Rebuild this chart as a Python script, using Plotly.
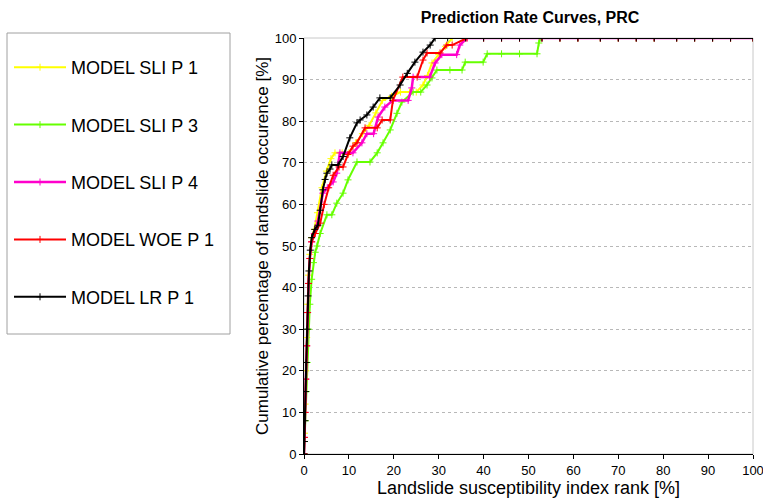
import plotly.graph_objects as go

# ---------------- data ----------------
tail_x = [36, 40, 44, 48, 53, 57, 61, 66, 70, 74, 78, 83, 87, 91, 95, 100]

sli1_x = [0, 0.1, 0.25, 0.4, 0.6, 0.8, 1.0, 1.3, 1.7, 2.3, 3.0, 4.0, 5.0, 6.0, 6.9, 8.5, 10, 11.5, 13, 14.5,
          16, 17.5, 19.5, 21.5, 23.5, 25, 26.5, 27.5, 28.5, 30, 31.5, 33] + tail_x
sli1_y = [0, 5, 12, 20, 28, 36, 43, 48, 52, 54, 58, 64, 68, 71, 72.4, 72.4, 72.4, 74.8, 77, 79,
          82, 85, 86, 87, 87, 87, 88.7, 91, 94, 96, 98, 100] + [100] * len(tail_x)

sli3_x = [0, 0.1, 0.3, 0.5, 0.7, 1.0, 1.3, 1.7, 2.1, 2.5, 2.9, 3.6, 5.1, 6.2, 7.3, 8.7, 9.8, 11.8, 14.7, 16.3,
          17.6, 19.2, 20.7, 21.8, 24.3, 26, 27.4, 28.5, 29.6, 32.5, 35.2, 35.9, 39.9, 40.8, 44, 48, 51.9, 52.3,
          52.6, 57, 61, 66, 70, 74, 78, 83, 87, 91, 95, 100]
sli3_y = [0, 3, 8, 15, 22, 30, 36, 42, 46, 48.5, 50, 53, 57.5, 57.5, 60.3, 62.7, 65.9, 70.2, 70.2, 72.4,
          74.8, 77.9, 81.9, 84.6, 87, 87, 88.7, 90.4, 92.3, 92.3, 92.3, 94.2, 94.2, 96.2, 96.2, 96.2, 96.2, 98.8,
          100, 100, 100, 100, 100, 100, 100, 100, 100, 100, 100, 100]

sli4_x = [0, 0.1, 0.25, 0.4, 0.6, 0.8, 1.0, 1.3, 1.7, 2.3, 3.1, 4.2, 5.2, 6.5, 7.3, 8.0, 10.9, 12.9, 14, 15.5,
          16.5, 18, 19.8, 23.2, 24, 24.3, 28, 29.2, 30.7, 34, 34.7, 36.3] + tail_x[1:]
sli4_y = [0, 4, 10, 18, 26, 34, 41, 47, 51, 53, 56, 62.7, 64, 65.4, 67.5, 72.4, 72.4, 74.8, 77, 77,
          81, 83.4, 85, 85, 88, 90.6, 90.6, 94, 96, 96, 98.3, 100] + [100] * len(tail_x[1:])

woe_x = [0, 0.1, 0.25, 0.4, 0.6, 0.8, 1.0, 1.3, 1.7, 2.5, 3.6, 4.5, 5.5, 6.5, 7.8, 8.7, 9.8, 10.9, 11.8, 13.6,
         16.3, 17.4, 19.2, 19.8, 22, 25.2, 26.5, 27.4, 30.3, 31.8, 33, 36.3] + tail_x[1:]
woe_y = [0, 4, 10, 18, 26, 34, 41, 47, 51, 53, 55.5, 60, 64, 67, 69, 69, 72, 74, 74.8, 78.4,
         78.4, 80.3, 80.3, 85, 90.6, 90.6, 94.7, 96.4, 96.4, 98.3, 98.3, 100] + [100] * len(tail_x[1:])

lr_x = [0, 0.1, 0.2, 0.35, 0.5, 0.7, 0.9, 1.1, 1.4, 1.7, 2.4, 3.1, 3.6, 4.2, 4.7, 5.1, 5.8, 6.2, 7.6, 8.7,
        10.2, 11.8, 12.5, 14, 15.4, 16.9, 19.2, 21.4, 23, 24.7, 26.5, 28.1, 29.2, 32] + tail_x
lr_y = [0, 3, 8, 15, 22, 30, 38, 44, 49, 52, 54, 55, 58.6, 63.5, 66, 67.5, 68.5, 69.5, 69.5, 71.5,
        76, 79.6, 80.3, 81.5, 83.4, 85.6, 85.6, 88.7, 91.5, 94.2, 96.6, 98.3, 100, 100] + [100] * len(tail_x)

names = ["MODEL SLI P 1", "MODEL SLI P 3", "MODEL SLI P 4", "MODEL WOE P 1", "MODEL LR P 1"]
xs = [sli1_x, sli3_x, sli4_x, woe_x, lr_x]
ys = [sli1_y, sli3_y, sli4_y, woe_y, lr_y]
colors = ["#ffff00", "#66ff00", "#ff00cc", "#ff0000", "#000000"]

ticks = list(range(0, 101, 10))

# ---------------- figure ----------------
fig = go.Figure()
for i, (n, x, y, c) in enumerate(zip(names, xs, ys, colors)):
    fig.add_trace(go.Scatter(
        x=x, y=y, name=n, mode="lines+markers", legendgroup=f"g{i}",
        line=dict(color=c, width=2 if i != 2 else 2.5),
        marker=dict(symbol="cross-thin", size=5, line=dict(color=c, width=1), color=c),
    ))

W, H = 763, 501
L, R, T, B = 304, 10, 38, 47
pw, ph = W - L - R, H - T - B

def px2x(p):
    return (p - L) / pw

def px2y(p):
    return (H - B - p) / ph

# legend box
fig.add_shape(type="rect", xref="paper", yref="paper",
              x0=px2x(7), x1=px2x(230), y0=px2y(334), y1=px2y(33),
              line=dict(color="#a0a0a0", width=1), fillcolor="white", layer="below")
# plot frame (top/right light)
fig.add_shape(type="rect", xref="paper", yref="paper", x0=0, x1=1, y0=0, y1=1,
              line=dict(color="#c8c8c8", width=1), layer="below")

fig.update_layout(
    width=W, height=H,
    margin=dict(l=L, r=R, t=T, b=B, autoexpand=False),
    paper_bgcolor="white", plot_bgcolor="white",
    font=dict(family="Liberation Sans, Arial, sans-serif", color="black"),
    title=dict(text="<b>Prediction Rate Curves, PRC</b>", x=px2x(530), xref="paper",
               y=1 - 17 / H, yref="container", xanchor="center", yanchor="middle",
               font=dict(size=16, color="black")),
    legend=dict(x=px2x(9), y=px2y(49), xanchor="left", yanchor="top",
                bgcolor="rgba(0,0,0,0)", borderwidth=0,
                font=dict(size=18, color="black"), itemwidth=52,
                tracegroupgap=31),
    showlegend=True,
)
fig.update_xaxes(range=[0, 100], tickvals=ticks, ticktext=[str(t) for t in ticks],
                 showgrid=False, zeroline=False, showline=True, linecolor="black", linewidth=1,
                 ticks="outside", ticklen=4, tickcolor="black", ticklabeloverflow="allow",
                 tickfont=dict(size=13, color="black"),
                 title=dict(text="Landslide susceptibility index rank [%]", font=dict(size=18), standoff=4))
fig.update_yaxes(range=[0, 100], tickvals=ticks, ticktext=[str(t) for t in ticks],
                 showgrid=True, gridcolor="#b8b8b8", griddash="dot", gridwidth=1,
                 zeroline=False, showline=True, linecolor="black", linewidth=1,
                 ticks="outside", ticklen=4, tickcolor="black",
                 tickfont=dict(size=13, color="black"),
                 title=dict(text="Cumulative percentage of landslide occurence [%]", font=dict(size=17), standoff=1))

fig.write_html("out.html", config={"displayModeBar": False},
               post_script="document.body.style.margin='0px';")
